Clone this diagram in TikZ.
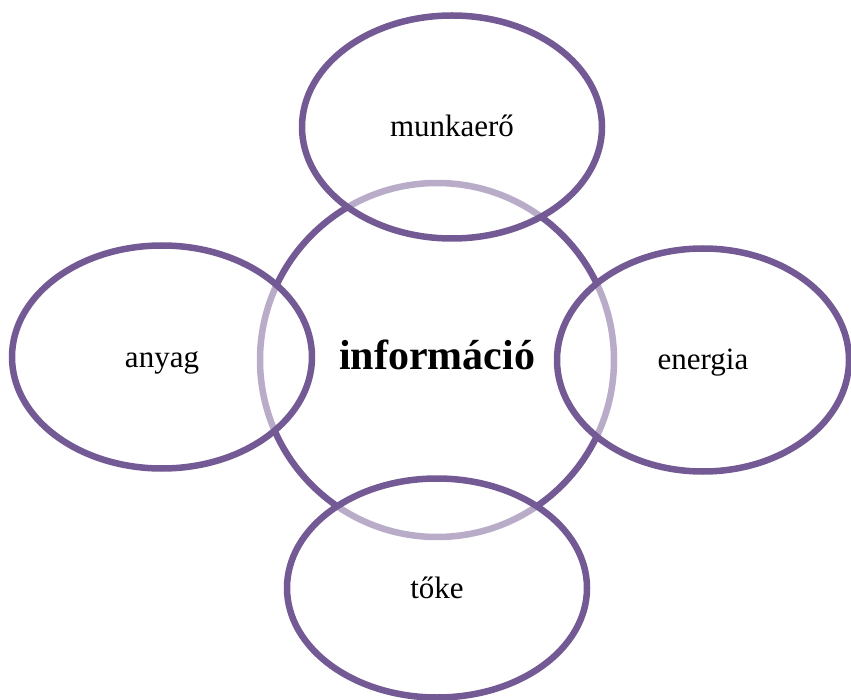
\documentclass[tikz,border=0pt]{standalone}
\usepackage{fontspec}
\setmainfont{Liberation Serif}
\usetikzlibrary{shapes.geometric}
\definecolor{ringpurple}{RGB}{116,90,148}

\begin{document}
\begin{tikzpicture}[x=1pt,y=-1pt,
  every node/.style={font=\fontsize{31}{36}\selectfont,text height=20pt,text depth=0pt},
  hub/.style={draw=ringpurple,line width=6.5pt,circle,minimum size=354pt,inner sep=0pt,
    font=\fontsize{42}{48}\selectfont\bfseries},
  petal/.style={draw=ringpurple,line width=6.5pt,ellipse,inner sep=0pt,
    fill=white,fill opacity=0.5,text opacity=1,minimum width=300pt,minimum height=223pt}]
  \useasboundingbox (0,0) rectangle (851,700);
  \node[hub] (info) at (437,360) {információ};
  \node[petal] (munka) at (452,127) {munkaerő};
  \node[petal] (anyag) at (162,357) {anyag};
  \node[petal,minimum width=292pt] (energia) at (703,360) {energia};
  \node[petal,minimum height=219pt] (toke) at (437,588) {tőke};
\end{tikzpicture}
\end{document}
